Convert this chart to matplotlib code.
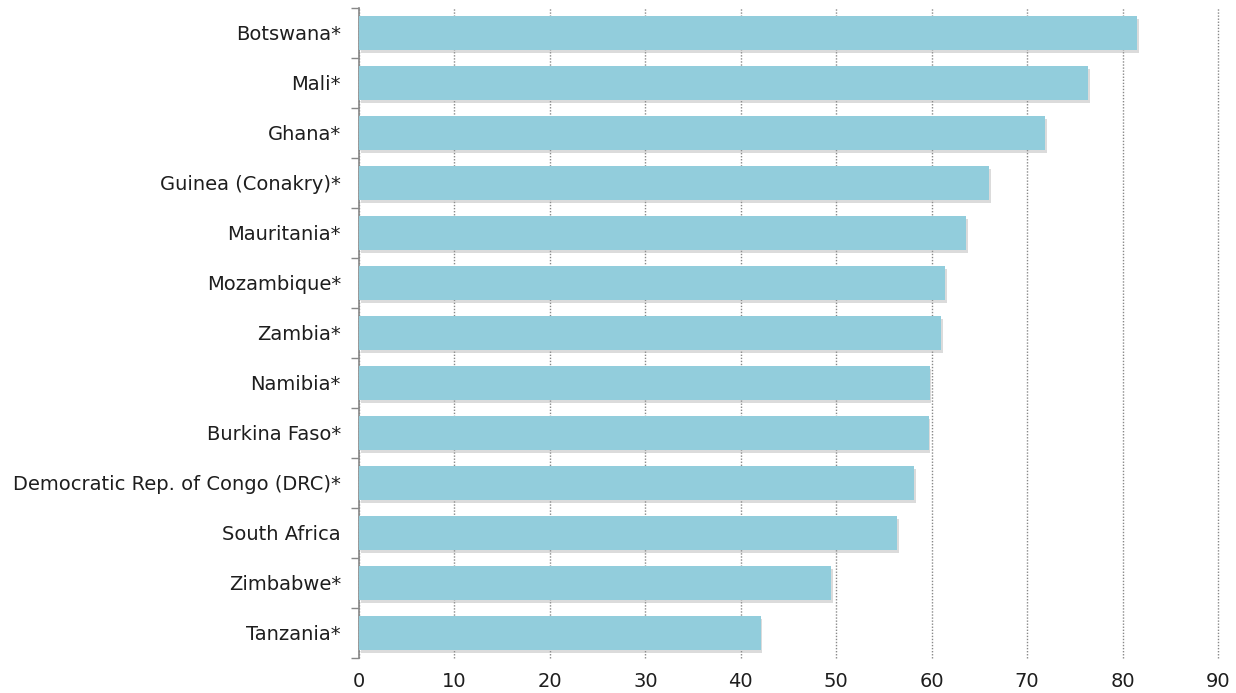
import matplotlib
matplotlib.use("Agg")
import matplotlib.pyplot as plt
import matplotlib.patheffects as pe
import numpy as np

countries = [
    "Botswana*", "Mali*", "Ghana*", "Guinea (Conakry)*", "Mauritania*",
    "Mozambique*", "Zambia*", "Namibia*", "Burkina Faso*",
    "Democratic Rep. of Congo (DRC)*", "South Africa", "Zimbabwe*", "Tanzania*",
]
values = [81.5, 76.4, 71.9, 66.0, 63.6, 61.4, 61.0, 59.8, 59.7, 58.2, 56.4, 49.5, 42.1]
x_ticks = [0, 10, 20, 30, 40, 50, 60, 70, 80, 90]

plt.rcParams["font.family"] = ["DejaVu Sans"]

fig = plt.figure(figsize=(12.36, 6.93), dpi=100)
ax = fig.add_axes([359 / 1236, 1 - 658 / 693, (1218 - 359) / 1236, (658 - 8) / 693])

n = len(countries)
ypos = np.arange(n)
bars = ax.barh(ypos, values, height=0.68, color="#92CDDC", edgecolor="none", zorder=3)
for b in bars:
    b.set_path_effects([
        pe.SimplePatchShadow(offset=(1.2, -2.2), shadow_rgbFace="#9a9a9a", alpha=0.35),
        pe.Normal(),
    ])

ax.set_ylim(n - 0.5, -0.5)
ax.set_xlim(0, 90)
ax.set_yticks(ypos)
ax.set_yticklabels(countries, fontsize=14, color="#1e1e1e")
ax.tick_params(axis="y", which="major", length=0, pad=13)
ax.set_yticks(np.arange(-0.5, n, 1.0), minor=True)
ax.tick_params(axis="y", which="minor", length=6, width=1, color="#888888", direction="out")

ax.set_xticks(x_ticks)
ax.set_xticklabels([str(t) for t in x_ticks], fontsize=14, color="#1e1e1e")
ax.tick_params(axis="x", length=0, pad=10)

ax.grid(axis="x", linestyle=(0, (1, 1.2)), color="#888888", linewidth=1, zorder=0)
for gl in ax.get_xgridlines():
    gl.set_clip_on(False)
ax.set_axisbelow(True)

for s in ["top", "right", "bottom"]:
    ax.spines[s].set_visible(False)
ax.spines["left"].set_color("#888888")
ax.spines["left"].set_linewidth(1.2)

fig.savefig("out.png", dpi=100)
